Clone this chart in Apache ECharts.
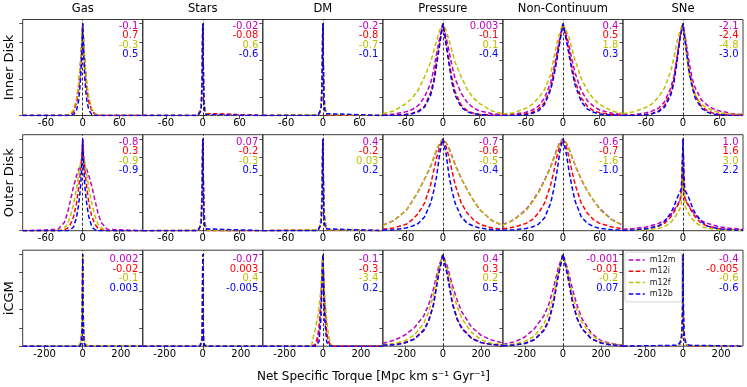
<!DOCTYPE html>
<html>
<head>
<meta charset="utf-8">
<script src="https://cdn.jsdelivr.net/npm/echarts@6/dist/echarts.min.js"></script>
<style>html,body{margin:0;padding:0;background:#fff}#c{width:747px;height:387px}</style>
</head>
<body>
<div id="c"></div>
<script>
// ---------- labels ----------
const rowNames = ['Inner Disk', 'Outer Disk', 'iCGM'];
const colNames = ['Gas', 'Stars', 'DM', 'Pressure', 'Non-Continuum', 'SNe'];
const sims = ['m12m', 'm12i', 'm12f', 'm12b'];
const xTicks12 = [-60, 0, 60];
const xTicks3 = [-200, 0, 200];
const yTicks = [0, 0.2, 0.4, 0.6, 0.8, 1.0];

// ---------- x sample grids ----------
const xNarrow = [-98,-40,-30,-25,-20,-15,-10,-7,-5,-3,-1.5,0,1.5,3,5,7,10,15,20,25,30,40,98];
const xSpike = [-98,-8,-5,-3,-2,-1,0,1,2,3,5,8,98];
const xWide = [-98,-80,-60,-50,-40,-30,-20,-15,-10,-5,0,5,10,15,20,30,40,50,60,80,98];
const xMixed = [-98,-80,-60,-40,-30,-20,-15,-10,-5,-3,-1.5,0,1.5,3,5,10,15,20,30,40,60,80,98];
const xWide3 = [-315,-250,-200,-150,-100,-75,-50,-25,0,25,50,75,100,150,200,250,315];
const xSpike3 = [-315,-30,-15,-8,-4,-2,0,2,4,8,15,30,315];
const xDM3 = [-315,-60,-50,-40,-30,-20,-10,-5,0,5,10,20,30,40,50,60,315];

// ---------- curves (order m12m, m12i, m12f, m12b) ----------
const innerGas = [
  [0,0,0,0.005,0.015,0.05,0.17,0.31,0.45,0.63,0.8,1,0.8,0.62,0.44,0.3,0.16,0.05,0.015,0.005,0,0,0],
  [0,0,0,0,0.01,0.04,0.14,0.27,0.4,0.58,0.77,1,0.78,0.6,0.42,0.29,0.15,0.05,0.015,0.005,0,0,0],
  [0,0,0,0.005,0.02,0.06,0.18,0.32,0.46,0.64,0.81,1,0.82,0.65,0.48,0.34,0.2,0.07,0.02,0.005,0,0,0],
  [0,0,0,0,0,0.01,0.06,0.15,0.27,0.45,0.7,1,0.7,0.45,0.27,0.15,0.06,0.01,0,0,0,0,0]
];
const innerStars = [
  [0,0,0.02,0.08,0.2,0.5,1,0.5,0.2,0.08,0.02,0,0],
  [0,0,0.02,0.07,0.18,0.48,1,0.48,0.18,0.07,0.02,0,0],
  [0,0,0.03,0.1,0.22,0.52,1,0.52,0.22,0.1,0.03,0,0],
  [0,0,0.01,0.05,0.14,0.42,1,0.42,0.14,0.05,0.01,0,0]
];
const innerDM = [
  [0,0.005,0.03,0.1,0.22,0.5,1,0.5,0.22,0.1,0.03,0.005,0],
  [0,0.005,0.03,0.09,0.2,0.48,1,0.48,0.2,0.09,0.03,0.005,0],
  [0,0.01,0.04,0.12,0.25,0.55,1,0.55,0.25,0.12,0.04,0.01,0],
  [0,0,0.02,0.07,0.16,0.45,1,0.45,0.16,0.07,0.02,0,0]
];
const innerPressure = [
  [0.005,0.015,0.04,0.065,0.11,0.2,0.35,0.5,0.68,0.85,1,0.86,0.7,0.54,0.4,0.24,0.14,0.08,0.05,0.02,0.01],
  [0,0.005,0.012,0.025,0.05,0.1,0.25,0.38,0.6,0.8,1,0.8,0.6,0.4,0.26,0.11,0.05,0.025,0.012,0.005,0],
  [0.02,0.05,0.13,0.19,0.28,0.42,0.58,0.7,0.82,0.93,1,0.93,0.82,0.7,0.58,0.42,0.28,0.19,0.13,0.05,0.02],
  [0,0,0.01,0.02,0.04,0.09,0.22,0.35,0.56,0.78,1,0.78,0.56,0.35,0.22,0.09,0.04,0.02,0.01,0,0]
];
const innerNonCont = [
  [0.005,0.015,0.035,0.06,0.1,0.19,0.36,0.5,0.68,0.85,1,0.9,0.76,0.6,0.46,0.27,0.16,0.1,0.06,0.025,0.01],
  [0,0.005,0.02,0.035,0.07,0.14,0.3,0.45,0.63,0.82,1,0.86,0.7,0.52,0.37,0.19,0.1,0.05,0.03,0.01,0],
  [0.015,0.03,0.08,0.12,0.19,0.28,0.45,0.62,0.78,0.9,1,0.93,0.85,0.72,0.6,0.4,0.27,0.18,0.12,0.05,0.02],
  [0,0,0.01,0.025,0.05,0.12,0.28,0.42,0.6,0.8,1,0.84,0.66,0.48,0.33,0.15,0.07,0.035,0.015,0.005,0]
];
const innerSNe = [
  [0.005,0.01,0.03,0.05,0.08,0.15,0.3,0.42,0.62,0.85,1,0.8,0.58,0.4,0.3,0.17,0.11,0.07,0.05,0.02,0.01],
  [0,0.005,0.012,0.025,0.05,0.11,0.25,0.38,0.6,0.85,1,0.75,0.5,0.34,0.22,0.1,0.05,0.025,0.012,0.005,0],
  [0.02,0.04,0.09,0.13,0.2,0.3,0.48,0.62,0.8,0.92,1,0.7,0.45,0.32,0.22,0.12,0.08,0.05,0.03,0.015,0.01],
  [0,0,0.01,0.02,0.04,0.09,0.22,0.35,0.57,0.83,1,0.73,0.48,0.31,0.19,0.08,0.035,0.015,0.01,0,0]
];
const outerGas = [
  [0,0.015,0.09,0.19,0.33,0.48,0.6,0.66,0.69,0.71,0.72,0.72,0.72,0.71,0.69,0.66,0.6,0.48,0.33,0.19,0.09,0.015,0],
  [0,0,0.01,0.025,0.07,0.15,0.3,0.45,0.56,0.7,0.82,1,0.82,0.7,0.56,0.45,0.3,0.15,0.07,0.025,0.01,0,0],
  [0,0,0.03,0.07,0.16,0.29,0.46,0.6,0.68,0.76,0.8,0.82,0.8,0.76,0.68,0.6,0.46,0.29,0.16,0.07,0.03,0,0],
  [0,0,0,0,0.01,0.04,0.15,0.27,0.38,0.52,0.72,1,0.72,0.52,0.38,0.27,0.15,0.04,0.01,0,0,0,0]
];
const outerStars = [
  [0,0.005,0.04,0.12,0.25,0.55,1,0.55,0.25,0.12,0.04,0.005,0],
  [0,0,0.03,0.09,0.2,0.5,1,0.5,0.2,0.09,0.03,0,0],
  [0,0.005,0.04,0.11,0.24,0.53,1,0.53,0.24,0.11,0.04,0.005,0],
  [0,0,0.02,0.06,0.15,0.45,1,0.45,0.15,0.06,0.02,0,0]
];
const outerDM = [
  [0,0.01,0.05,0.13,0.26,0.55,1,0.55,0.26,0.13,0.05,0.01,0],
  [0,0.01,0.04,0.11,0.23,0.5,1,0.5,0.23,0.11,0.04,0.01,0],
  [0,0.01,0.05,0.13,0.27,0.56,1,0.56,0.27,0.13,0.05,0.01,0],
  [0,0,0.02,0.07,0.16,0.45,1,0.45,0.16,0.07,0.02,0,0]
];
const outerPressure = [
  [0.06,0.11,0.22,0.32,0.43,0.56,0.7,0.79,0.88,0.95,1,0.96,0.9,0.81,0.72,0.57,0.44,0.33,0.23,0.11,0.055],
  [0.015,0.03,0.07,0.12,0.19,0.3,0.5,0.65,0.8,0.92,1,0.92,0.8,0.65,0.5,0.3,0.19,0.12,0.07,0.03,0.015],
  [0.055,0.11,0.22,0.32,0.43,0.56,0.7,0.8,0.89,0.96,1,0.96,0.89,0.8,0.71,0.57,0.44,0.33,0.23,0.11,0.055],
  [0.005,0.01,0.03,0.05,0.08,0.15,0.3,0.43,0.6,0.85,1,0.85,0.6,0.43,0.3,0.15,0.08,0.05,0.03,0.01,0.005]
];
const outerNonCont = [
  [0.065,0.12,0.23,0.32,0.42,0.55,0.7,0.79,0.88,0.96,1,0.96,0.89,0.8,0.71,0.56,0.43,0.33,0.24,0.12,0.06],
  [0.02,0.04,0.08,0.12,0.19,0.3,0.5,0.64,0.8,0.93,1,0.93,0.8,0.64,0.5,0.3,0.19,0.12,0.08,0.04,0.02],
  [0.06,0.115,0.22,0.31,0.41,0.54,0.69,0.78,0.87,0.95,1,0.96,0.89,0.8,0.71,0.56,0.43,0.33,0.23,0.115,0.06],
  [0.005,0.01,0.025,0.04,0.07,0.14,0.3,0.45,0.63,0.86,1,0.86,0.65,0.47,0.32,0.15,0.08,0.045,0.025,0.01,0.005]
];
const outerSNe = [
  [0.015,0.025,0.04,0.08,0.11,0.17,0.22,0.27,0.33,0.36,0.5,1,0.5,0.36,0.33,0.27,0.22,0.17,0.11,0.08,0.04,0.025,0.015],
  [0.005,0.01,0.02,0.05,0.08,0.15,0.2,0.26,0.32,0.34,0.5,1,0.5,0.34,0.32,0.26,0.2,0.15,0.08,0.05,0.02,0.01,0.005],
  [0.002,0.005,0.01,0.025,0.045,0.09,0.13,0.18,0.24,0.28,0.45,1,0.45,0.28,0.24,0.18,0.13,0.09,0.045,0.025,0.01,0.005,0.002],
  [0.003,0.008,0.02,0.05,0.1,0.19,0.26,0.35,0.42,0.45,0.6,1,0.6,0.45,0.42,0.35,0.26,0.19,0.1,0.05,0.02,0.008,0.003]
];
const cgmGas = [
  [0,0,0.005,0.05,0.2,0.45,1,0.45,0.2,0.05,0.005,0,0],
  [0,0,0.005,0.04,0.18,0.42,1,0.42,0.18,0.04,0.005,0,0],
  [0,0.005,0.02,0.08,0.25,0.5,1,0.5,0.25,0.08,0.02,0.005,0],
  [0,0,0,0.03,0.15,0.4,1,0.4,0.15,0.03,0,0,0]
];
const cgmStars = [
  [0,0,0,0.01,0.08,0.3,1,0.3,0.08,0.01,0,0,0],
  [0,0,0,0.01,0.07,0.28,1,0.28,0.07,0.01,0,0,0],
  [0,0,0,0.02,0.1,0.32,1,0.32,0.1,0.02,0,0,0],
  [0,0,0,0.01,0.06,0.26,1,0.26,0.06,0.01,0,0,0]
];
const cgmDM = [
  [0,0,0,0.02,0.08,0.2,0.5,0.75,1,0.7,0.45,0.15,0.05,0.01,0,0,0],
  [0,0,0,0.01,0.05,0.15,0.45,0.72,1,0.7,0.45,0.15,0.05,0.01,0,0,0],
  [0,0,0.1,0.18,0.28,0.42,0.62,0.8,1,0.75,0.55,0.3,0.12,0.03,0,0,0],
  [0,0,0,0,0.01,0.05,0.3,0.6,1,0.6,0.3,0.05,0.01,0,0,0,0]
];
const cgmPressure = [
  [0.03,0.07,0.12,0.2,0.33,0.45,0.62,0.84,1,0.86,0.66,0.5,0.37,0.21,0.12,0.07,0.035],
  [0.01,0.02,0.04,0.08,0.18,0.28,0.45,0.76,1,0.77,0.47,0.3,0.2,0.09,0.04,0.02,0.01],
  [0.015,0.03,0.06,0.12,0.25,0.37,0.55,0.8,1,0.82,0.6,0.43,0.3,0.15,0.07,0.035,0.015],
  [0.01,0.015,0.035,0.075,0.17,0.27,0.44,0.75,1,0.76,0.46,0.29,0.19,0.085,0.04,0.02,0.01]
];
const cgmNonCont = [
  [0.02,0.05,0.1,0.19,0.33,0.45,0.63,0.85,1,0.84,0.62,0.44,0.3,0.14,0.06,0.03,0.01],
  [0.005,0.015,0.03,0.07,0.18,0.28,0.47,0.77,1,0.77,0.48,0.3,0.19,0.08,0.035,0.015,0.005],
  [0.01,0.025,0.05,0.11,0.24,0.36,0.54,0.8,1,0.8,0.55,0.38,0.26,0.12,0.05,0.025,0.01],
  [0.005,0.015,0.03,0.07,0.17,0.27,0.46,0.76,1,0.77,0.48,0.3,0.19,0.08,0.035,0.015,0.005]
];
const cgmSNe = [
  [0,0.005,0.03,0.08,0.2,0.4,1,0.4,0.2,0.08,0.03,0.005,0],
  [0,0.005,0.02,0.07,0.18,0.38,1,0.38,0.18,0.07,0.02,0.005,0],
  [0,0.005,0.025,0.08,0.2,0.4,1,0.4,0.2,0.08,0.025,0.005,0],
  [0,0.01,0.04,0.1,0.22,0.42,1,0.42,0.22,0.1,0.04,0.01,0]
];

// ---------- annotations (m12m, m12i, m12f, m12b) ----------
const innerNotes = [['-0.1','0.7','-0.3','0.5'],['-0.02','-0.08','0.6','-0.6'],['-0.2','-0.8','-0.7','-0.1'],['0.003','-0.1','0.1','-0.4'],['0.4','0.5','1.8','0.3'],['-2.1','-2.4','-4.8','-3.0']];
const outerNotes = [['-0.8','0.3','-0.9','-0.9'],['0.07','-0.2','-0.3','0.5'],['0.4','-0.2','0.03','0.2'],['-0.7','-0.6','-0.5','-0.4'],['-0.6','-0.7','-1.6','-1.0'],['1.0','1.6','3.0','2.2']];
const cgmNotes = [['0.002','-0.02','-0.1','0.003'],['-0.07','0.003','0.4','-0.005'],['-0.1','-0.3','-3.4','0.2'],['0.4','0.3','0.2','0.5'],['-0.001','-0.01','-0.2','0.07'],['-0.4','-0.005','-0.6','-0.6']];

// ---------- assembly ----------
const panels = [
  [[xNarrow, innerGas], [xSpike, innerStars], [xSpike, innerDM], [xWide, innerPressure], [xWide, innerNonCont], [xWide, innerSNe]],
  [[xNarrow, outerGas], [xSpike, outerStars], [xSpike, outerDM], [xWide, outerPressure], [xWide, outerNonCont], [xMixed, outerSNe]],
  [[xSpike3, cgmGas], [xSpike3, cgmStars], [xDM3, cgmDM], [xWide3, cgmPressure], [xWide3, cgmNonCont], [xSpike3, cgmSNe]]
];
const notes = [innerNotes, outerNotes, cgmNotes];
const xLim = [98, 98, 315];

const colors = ['#bf00bf', '#ff0000', '#bfbf00', '#0000ff'];
const FONT = 'DejaVu Sans';
const L0 = 22.7, CW = 120.05, TOPS = [19.5, 134.7, 250.2], RH = 96;
const NOTE_OFF = [6.5, 7.4, 9.3], NOTE_GAP = 9.6;

const grid = [], xAxis = [], yAxis = [], series = [], graphic = [];
for (let r = 0; r < 3; r++) {
  for (let c = 0; c < 6; c++) {
    const k = r * 6 + c;
    grid.push({left: L0 + c * CW, top: TOPS[r], width: CW, height: RH, show: true,
      borderColor: '#262626', borderWidth: 0.9, backgroundColor: 'transparent', containLabel: false});
    const ticks = r < 2 ? xTicks12 : xTicks3;
    xAxis.push({type: 'value', gridIndex: k, min: -xLim[r], max: xLim[r], position: 'bottom',
      axisLine: {show: false, onZero: false}, splitLine: {show: false},
      axisTick: {show: true, inside: false, length: 3.5, customValues: ticks, lineStyle: {color: '#262626', width: 0.8}},
      axisLabel: {show: true, customValues: ticks, margin: 3, fontSize: 10, fontFamily: FONT, color: '#000'}});
    yAxis.push({type: 'value', gridIndex: k, min: 0, max: 1.045, position: 'left',
      axisLine: {show: false, onZero: false}, splitLine: {show: false},
      axisTick: {show: true, inside: false, length: 3.5, customValues: yTicks, lineStyle: {color: '#262626', width: 0.8}},
      axisLabel: {show: false}});
    const [xs, ys] = panels[r][c];
    for (let s = 0; s < 4; s++) {
      const ser = {type: 'line', name: sims[s], xAxisIndex: k, yAxisIndex: k, symbol: 'none',
        data: xs.map((x, i) => [x, ys[s][i]]),
        lineStyle: {color: colors[s], width: 1.5, type: [4.5, 2.5]}, itemStyle: {color: colors[s]},
        z: 2 + s, silent: true};
      if (s === 3) {
        ser.markLine = {silent: true, symbol: 'none', label: {show: false},
          lineStyle: {color: '#000', width: 0.8, type: [3, 2]}, data: [{xAxis: 0}], animation: false};
      }
      series.push(ser);
    }
    for (let s = 0; s < 4; s++) {
      graphic.push({type: 'text', x: L0 + (c + 1) * CW - 4.5, y: TOPS[r] + NOTE_OFF[r] + s * NOTE_GAP, z: 100,
        style: {text: notes[r][c][s], fill: colors[s], fontSize: 10, fontFamily: FONT, align: 'right', verticalAlign: 'middle'}});
    }
  }
}
for (let c = 0; c < 6; c++) {
  graphic.push({type: 'text', x: L0 + (c + 0.5) * CW, y: 9.5, z: 100,
    style: {text: colNames[c], fill: '#000', fontSize: 11.5, fontFamily: FONT, align: 'center', verticalAlign: 'middle'}});
}
for (let r = 0; r < 3; r++) {
  graphic.push({type: 'text', x: 10, y: TOPS[r] + RH / 2, rotation: Math.PI / 2, z: 100,
    style: {text: rowNames[r], fill: '#000', fontSize: 13, fontFamily: FONT, align: 'center', verticalAlign: 'middle'}});
}
graphic.push({type: 'text', x: 373.5, y: 377, z: 100,
  style: {text: 'Net Specific Torque [Mpc km s\u207B\u00B9 Gyr\u207B\u00B9]', fill: '#000', fontSize: 12, fontFamily: FONT, align: 'center', verticalAlign: 'middle'}});

const chart = echarts.init(document.getElementById('c'), null, {renderer: 'canvas'});
chart.setOption({
  animation: false,
  grid, xAxis, yAxis, series, graphic,
  legend: {data: sims, orient: 'vertical', left: 625, top: 252, itemWidth: 16, itemHeight: 8, itemGap: 3.3,
    itemStyle: {opacity: 0}, lineStyle: {width: 1.5},
    textStyle: {fontSize: 8, fontFamily: FONT, color: '#222'}, backgroundColor: 'rgba(255,255,255,0.85)',
    borderColor: '#cccccc', borderWidth: 0.8, borderRadius: 2, padding: [4, 6, 4, 3], selectedMode: false, z: 50}
});
</script>
</body>
</html>
